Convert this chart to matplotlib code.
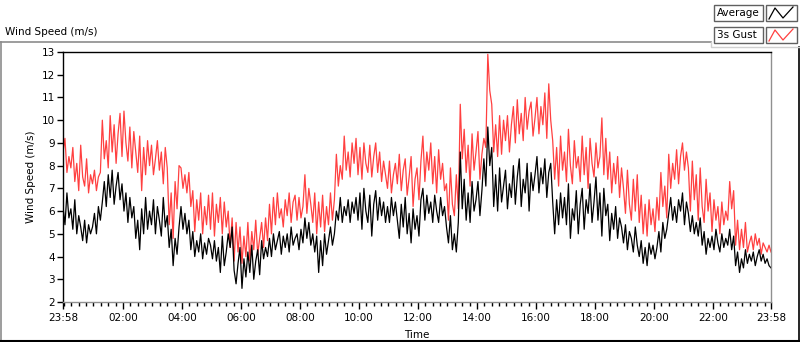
import numpy as np
import matplotlib.pyplot as plt
from matplotlib.lines import Line2D
from matplotlib.patches import Rectangle

# 3s gust (m/s), one reading every 4 minutes from 23:58 (15 per row = 1 hour)
gust = [
    8.6, 9.2, 7.7, 8.4, 7.9, 8.8, 7.3, 8.1, 6.9, 8.9, 7.5, 7.1, 8.3, 6.8, 7.6,
    7.2, 7.8, 6.9, 7.5, 7.7, 10.0, 8.3, 9.1, 7.9, 10.2, 8.6, 9.8, 8.1, 9.4, 10.3,
    8.4, 10.4, 9.0, 8.2, 9.7, 7.9, 9.5, 8.6, 7.7, 9.3, 6.9, 8.8, 7.6, 9.1, 8.0,
    8.9, 7.6, 8.3, 9.1, 7.8, 8.6, 7.2, 8.8, 7.9, 5.4, 6.8, 4.8, 7.3, 6.1, 8.0,
    7.9, 7.0, 7.6, 6.8, 7.7, 6.2, 6.9, 5.1, 6.5, 5.6, 6.8, 5.0, 6.2, 5.4, 6.7,
    5.2, 6.8, 4.9, 6.3, 5.5, 6.6, 5.0, 6.4, 5.3, 6.0, 4.4, 5.7, 3.8, 5.5, 4.2,
    5.3, 3.7, 4.9, 4.0, 5.5, 3.8, 5.1, 4.3, 5.6, 4.1, 4.8, 5.5, 4.4, 5.7, 4.7,
    6.3, 5.0, 6.6, 5.4, 6.8, 5.7, 6.1, 5.3, 6.5, 5.8, 6.8, 5.5, 6.4, 6.7, 5.6,
    6.6, 5.7, 6.2, 7.6, 5.9, 7.0, 6.3, 5.5, 6.8, 5.0, 6.4, 5.3, 6.7, 5.1, 6.2,
    5.4, 6.8, 5.6, 6.5, 8.5, 7.1, 8.0, 7.4, 9.3, 7.8, 8.6, 7.5, 9.0, 8.1, 9.2,
    7.6, 8.8, 7.4, 9.0, 8.1, 7.7, 8.9, 7.5, 8.4, 9.0, 7.7, 8.6, 7.3, 8.2, 7.6,
    7.0, 8.2, 6.8, 7.6, 8.1, 7.2, 8.5, 6.9, 7.8, 8.3, 6.7, 7.5, 8.4, 6.2, 7.4,
    7.9, 6.5, 8.2, 9.3, 7.3, 8.6, 7.8, 9.0, 7.2, 8.4, 6.8, 8.7, 7.4, 8.1, 6.9,
    7.2, 5.6, 7.9, 6.3, 5.8, 7.6, 6.1, 10.7, 8.3, 9.6, 7.7, 8.9, 7.1, 9.4, 7.8,
    8.6, 9.5, 7.4, 8.5, 9.2, 8.8, 12.9, 11.3, 10.7, 8.6, 9.8, 8.4, 10.2, 8.5, 10.0,
    9.1, 10.2, 8.6, 9.8, 10.6, 9.0, 10.9, 9.4, 10.3, 9.1, 11.0, 9.6, 10.4, 10.8, 9.3,
    10.1, 11.0, 9.4, 10.6, 9.8, 11.2, 9.2, 11.6, 10.0, 9.1, 7.4, 8.8, 7.1, 9.3, 7.8,
    8.6, 7.3, 9.6, 8.0, 7.2, 9.1, 7.9, 8.4, 7.3, 9.3, 7.6, 8.8, 7.0, 9.2, 8.1,
    7.5, 9.0, 7.9, 8.4, 10.1, 7.6, 9.2, 7.4, 8.6, 6.8, 8.1, 7.2, 8.4, 6.6, 7.9,
    7.0, 5.9, 7.8, 6.3, 5.6, 7.4, 6.0, 7.6, 5.5, 6.7, 5.0, 6.3, 4.9, 6.5, 5.4,
    6.1, 5.1, 6.6, 5.6, 7.7, 6.2, 7.1, 5.7, 8.5, 7.0, 8.1, 7.4, 8.7, 7.2, 8.4,
    9.0, 7.8, 8.6, 7.9, 6.0, 8.2, 6.5, 7.6, 5.6, 7.9, 6.2, 5.5, 7.4, 6.0, 6.8,
    5.1, 6.5, 5.6, 6.2, 5.0, 6.4, 5.4, 6.0, 5.6, 7.3, 6.1, 6.9, 4.5, 5.6, 4.3,
    5.2, 4.4, 5.5, 4.2, 4.6, 4.9, 4.3, 5.0, 4.5, 4.8, 4.1, 4.6, 4.4, 4.2, 4.5,
    4.2,
]

# average wind speed (m/s), same times
average = [
    6.2, 5.4, 6.8, 5.7, 6.1, 5.2, 6.5, 5.0, 5.8, 5.3, 4.7, 5.6, 4.6, 5.4, 5.0,
    5.3, 5.9, 5.0, 6.2, 5.6, 6.4, 7.3, 6.2, 7.6, 6.6, 7.8, 6.3, 7.1, 7.7, 6.5,
    7.2, 6.0, 6.8, 5.5, 6.6, 5.7, 6.2, 4.8, 5.6, 4.3, 6.1, 5.0, 6.6, 5.2, 6.0,
    5.4, 6.5, 5.0, 6.2, 5.6, 4.9, 6.6, 5.3, 5.8, 4.4, 5.2, 3.6, 4.8, 4.1, 5.3,
    6.2, 5.2, 5.9, 5.0, 5.6, 4.3, 5.1, 4.0, 4.7, 4.2, 5.0, 3.9, 4.6, 4.1, 4.8,
    4.5, 3.9, 4.7, 3.8, 4.4, 3.3, 4.9, 3.6, 4.2, 5.0, 4.4, 5.3, 3.4, 2.8, 3.7,
    4.4, 2.6, 3.9, 3.1, 4.2, 3.3, 4.5, 3.0, 3.8, 4.3, 3.2, 4.7, 3.9, 4.4, 4.0,
    4.8, 4.0, 5.0, 4.3, 4.7, 5.1, 4.1, 4.9, 4.4, 5.0, 4.2, 5.3, 4.5, 4.8, 5.0,
    4.3, 5.2, 4.6, 5.7, 4.8, 5.5, 4.5, 5.0, 4.2, 4.9, 3.3, 4.7, 3.6, 5.0, 4.1,
    4.7, 5.3, 4.5, 5.0, 6.0, 5.6, 6.6, 5.5, 6.2, 5.8, 6.5, 5.5, 6.4, 5.9, 6.6,
    5.6, 6.8, 5.2, 7.0, 6.0, 5.5, 6.7, 4.9, 6.3, 6.9, 5.6, 6.6, 5.8, 6.4, 5.5,
    6.2, 5.5, 6.6, 5.8, 6.4, 5.6, 4.8, 6.3, 5.3, 6.6, 5.0, 5.9, 4.6, 6.1, 5.2,
    5.8, 4.9, 6.5, 7.0, 5.6, 6.7, 5.9, 6.4, 5.5, 6.7, 6.0, 5.5, 6.6, 5.8, 6.2,
    5.3, 4.6, 5.8, 4.3, 5.0, 4.2, 5.5, 8.6, 6.1, 7.4, 5.6, 6.8, 5.5, 7.3, 6.0,
    6.5, 7.3, 5.8, 6.9, 8.3, 7.1, 9.7, 8.0, 8.8, 6.2, 7.6, 6.0, 7.9, 6.4, 7.1,
    7.8, 6.1, 7.2, 6.6, 8.0, 6.3, 7.5, 8.3, 6.2, 7.4, 6.8, 8.1, 6.0, 7.7, 6.9,
    7.6, 8.4, 6.8, 7.9, 7.2, 8.3, 6.6, 7.7, 8.1, 6.4, 5.0, 6.5, 5.4, 6.8, 5.7,
    6.6, 5.4, 7.2, 4.8, 6.1, 5.6, 6.9, 5.0, 6.3, 7.0, 5.2, 6.5, 5.9, 7.2, 5.5,
    6.4, 7.5, 5.6, 6.8, 4.9, 7.0, 5.8, 6.3, 4.7, 5.9, 5.2, 6.2, 4.8, 5.7, 5.3,
    4.6, 5.4, 4.3, 5.1, 4.8, 4.2, 5.3, 4.5, 4.0, 4.7, 3.7, 4.4, 3.6, 4.6, 4.1,
    4.5, 3.9, 4.4, 5.1, 4.2, 5.5, 4.8, 5.2, 5.9, 6.6, 5.6, 6.2, 5.5, 6.5, 6.0,
    6.8, 5.4, 6.4, 5.9, 5.1, 5.8, 5.0, 5.5, 4.9, 5.7, 4.5, 5.1, 4.1, 4.8, 4.4,
    4.9, 4.3, 5.2, 4.6, 4.2, 5.0, 4.4, 4.8, 4.5, 5.2, 4.3, 4.9, 3.6, 4.2, 3.3,
    3.9, 3.5, 4.3, 3.7, 4.1, 3.8, 4.2, 3.6, 4.0, 4.3, 3.8, 4.1, 3.7, 3.9, 3.6,
    3.5,
]

# minutes after midnight; series starts at 23:58 the day before
minutes = np.arange(len(gust)) * 4 - 2

tick_minutes = [-2, 120, 240, 360, 480, 600, 720, 840, 960, 1080, 1200, 1320, 1438]
tick_labels = ['23:58', '02:00', '04:00', '06:00', '08:00', '10:00', '12:00',
               '14:00', '16:00', '18:00', '20:00', '22:00', '23:58']
y_ticks = list(range(2, 14))

plt.rcParams['font.family'] = 'DejaVu Sans'
plt.rcParams['font.size'] = 7.5

fig = plt.figure(figsize=(8, 3.42), dpi=100)
ax = fig.add_axes([63 / 800, 1 - 302 / 342, 708 / 800, 250 / 342])

ax.plot(minutes, gust, color='#ff4040', lw=0.9)
ax.plot(minutes, average, color='black', lw=0.9)

ax.set_xlim(-2, 1438)
ax.set_ylim(2, 13)
ax.set_xticks(tick_minutes)
ax.set_xticklabels(tick_labels)
ax.set_xticks(np.arange(0, 1440, 15), minor=True)
ax.set_yticks(y_ticks)
ax.tick_params(axis='x', which='major', length=5, width=1, pad=3)
ax.tick_params(axis='x', which='minor', length=3, width=1)
ax.tick_params(axis='y', length=4, width=1, pad=2)

ax.spines['left'].set_color('black')
ax.spines['top'].set_color('black')
ax.spines['right'].set_color('#909090')
ax.spines['bottom'].set_color('#909090')
for s in ax.spines.values():
    s.set_linewidth(1)

ax.set_ylabel('Wind Speed (m/s)', labelpad=4)
ax.set_xlabel('Time', labelpad=5)

# outer frame and title like the original panel
grey = '#8c8c8c'
fig.add_artist(Line2D([0, 711 / 800], [1 - 42 / 342] * 2, color=grey, lw=1.2))
fig.add_artist(Line2D([0.5 / 800] * 2, [1 - 42 / 342, 0], color=grey, lw=1.2))
fig.add_artist(Line2D([0, 1], [0.8 / 342] * 2, color='black', lw=1.5))
fig.add_artist(Line2D([798.5 / 800] * 2, [0, 1 - 47 / 342], color='black', lw=1.2))
fig.add_artist(Line2D([711 / 800, 711 / 800, 799 / 800], [1 - 42 / 342, 1 - 47 / 342, 1 - 47 / 342],
                      color='#d0d0d0', lw=1))
fig.text(5 / 800, 1 - 32 / 342, 'Wind Speed (m/s)', fontsize=7.5, va='center', ha='left')

# legend: name box + sample box for each series
for i, (name, col) in enumerate([('Average', 'black'), ('3s Gust', '#ff4040')]):
    yc = 1 - (13 + 22 * i) / 342
    fig.add_artist(Rectangle((714 / 800, yc - 8 / 342), 49 / 800, 16 / 342, fill=False,
                             edgecolor='#606060', lw=1))
    fig.text(717 / 800, yc, name, fontsize=7.5, va='center', ha='left')
    fig.add_artist(Rectangle((766 / 800, yc - 8 / 342), 31 / 800, 16 / 342, fill=False,
                             edgecolor='#606060', lw=1))
    zx = np.array([769, 775, 783, 793]) / 800
    zy = yc + np.array([-6, 5, -5, 6]) / 342
    fig.add_artist(Line2D(zx, zy, color=col, lw=0.9))

fig.savefig('out.png', dpi=100, facecolor='w')
